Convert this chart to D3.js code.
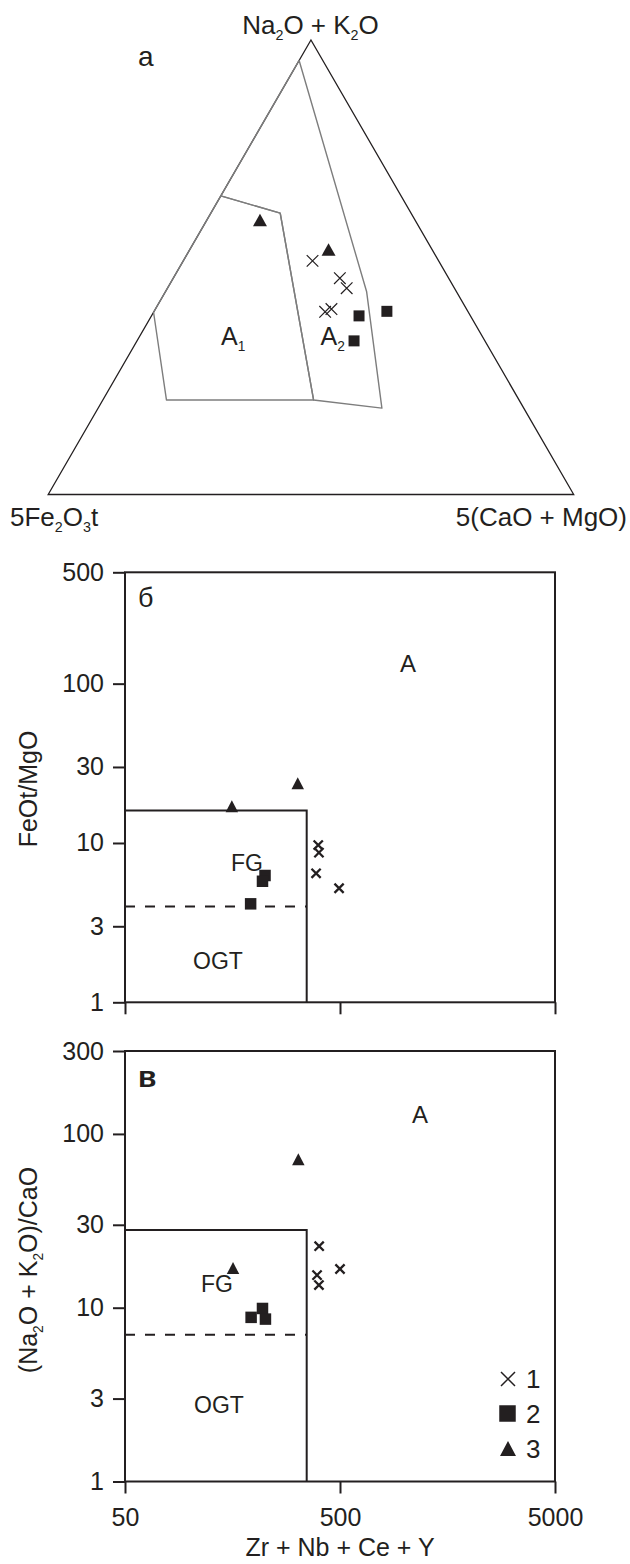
<!DOCTYPE html>
<html>
<head>
<meta charset="utf-8">
<script src="https://cdn.jsdelivr.net/npm/d3@7"></script>
<style>
  body { margin: 0; background: #fff; }
  svg { display: block; font-family: "Liberation Sans", Arial, sans-serif; }
</style>
</head>
<body>
<svg id="chart" width="630" height="1564"></svg>
<script>
// ---------- Ternary diagram (а): [Na2O+K2O, 5Fe2O3t, 5(CaO+MgO)], sum = 100 ----------
const fieldA1 = [[65.7, 34.3, 0], [61.9, 24.9, 13.2], [20.8, 39.1, 40.1], [20.8, 67.1, 12.1], [40.1, 59.9, 0]];
const fieldA2 = [[95.5, 4.5, 0], [44.6, 17.1, 38.3], [19.0, 27.1, 54.0], [20.8, 39.1, 40.1], [61.9, 24.9, 13.2], [65.7, 34.3, 0]];
const ternGroup1 = [[51.4, 24.0, 24.6], [47.6, 20.7, 31.7], [45.4, 20.5, 34.1], [40.2, 27.2, 32.6], [40.8, 25.7, 33.5]];
const ternGroup2 = [[39.3, 21.2, 39.5], [40.3, 15.4, 44.3], [33.8, 24.9, 41.3]];
const ternGroup3 = [[60.4, 29.5, 10.1], [53.9, 19.7, 26.4]];

// ---------- Whalen diagrams: x = Zr + Nb + Ce + Y (ppm) ----------
const xTicks = [50, 500, 5000];
const zrBoundary = 350;

// (б) FeOt/MgO
const feMgTicks = [1, 3, 10, 30, 100, 500];
const feMgFG = 16, feMgOGT = 4;
const bGroup1X = [396, 399, 387, 495], bGroup1Y = [9.7, 8.7, 6.45, 5.2];
const bGroup2X = [224, 218, 192],      bGroup2Y = [6.25, 5.75, 4.15];
const bGroup3X = [157, 318],           bGroup3Y = [17.0, 23.7];

// (в) (Na2O+K2O)/CaO
const alkCaTicks = [1, 3, 10, 30, 100, 300];
const alkCaFG = 28, alkCaOGT = 7;
const vGroup1X = [400, 500, 391, 399], vGroup1Y = [22.6, 16.7, 15.4, 13.5];
const vGroup2X = [218, 193, 225],      vGroup2Y = [9.9, 8.8, 8.6];
const vGroup3X = [320, 159],           vGroup3Y = [71.5, 16.9];

const legendLabels = ["1", "2", "3"];

const INK = "#231f20";
const svg = d3.select("#chart");

// marker shapes
const crossPath = s => `M${-s},${-s}L${s},${s}M${-s},${s}L${s},${-s}`;
const squarePath = s => `M${-s/2},${-s/2}h${s}v${s}h${-s}Z`;
const triPath = (w, h) => `M0,${-h/2}L${w/2},${h/2}L${-w/2},${h/2}Z`;

function drawMarks(g, pts, kind, opt) {
  const sel = g.selectAll(null).data(pts).enter().append("path")
    .attr("transform", d => `translate(${d[0]},${d[1]})`);
  if (kind === "cross") {
    sel.attr("d", crossPath(opt.s)).attr("fill", "none").attr("stroke", INK).attr("stroke-width", opt.sw);
  } else if (kind === "square") {
    sel.attr("d", squarePath(opt.s)).attr("fill", INK);
  } else {
    sel.attr("d", triPath(opt.w, opt.h)).attr("fill", INK);
  }
}

// text with subscripts: parts = [[text, isSub], ...]
function richText(g, x, y, parts, size, anchor, extra) {
  const t = g.append("text").attr("x", x).attr("y", y)
    .attr("font-size", size).attr("fill", INK).attr("text-anchor", anchor || "start");
  if (extra) extra(t);
  let shifted = false;
  parts.forEach(([s, sub]) => {
    const ts = t.append("tspan").text(s);
    if (sub && !shifted) { ts.attr("font-size", size * 0.55).attr("dy", size * 0.24); shifted = true; }
    else if (!sub && shifted) { ts.attr("dy", -size * 0.24); shifted = false; }
  });
  return t;
}

// ================= (а) ternary =================
{
  const g = svg.append("g");
  // vertical position from Na2O+K2O, horizontal from 5(CaO+MgO) + half of Na2O+K2O
  const ty = d3.scaleLinear().domain([0, 100]).range([494.5, 40]);
  const tx = d3.scaleLinear().domain([0, 100]).range([48.2, 573.7]);
  const proj = d => [tx(d[2] + d[0] / 2), ty(d[0])];

  const outline = [[100, 0, 0], [0, 100, 0], [0, 0, 100]].map(proj);
  g.append("path").attr("d", d3.line()(outline) + "Z")
    .attr("fill", "none").attr("stroke", INK).attr("stroke-width", 1.3);

  [fieldA1, fieldA2].forEach(f => {
    g.append("path").attr("d", d3.line()(f.map(proj)) + "Z")
      .attr("fill", "none").attr("stroke", "#7d7d7d").attr("stroke-width", 1.4)
      .attr("stroke-linejoin", "round");
  });

  drawMarks(g, ternGroup1.map(proj), "cross", { s: 5.8, sw: 1.2 });
  drawMarks(g, ternGroup2.map(proj), "square", { s: 11 });
  drawMarks(g, ternGroup3.map(proj), "tri", { w: 14, h: 12.5 });

  richText(g, 310.5, 34, [["Na", 0], ["2", 1], ["O + K", 0], ["2", 1], ["O", 0]], 26, "middle");
  richText(g, 10, 526, [["5Fe", 0], ["2", 1], ["O", 0], ["3", 1], ["t", 0]], 26, "start");
  g.append("text").attr("x", 627).attr("y", 526).attr("text-anchor", "end")
    .attr("font-size", 26).attr("fill", INK).text("5(CaO + MgO)");
  g.append("text").attr("x", 138).attr("y", 66).attr("font-size", 28).attr("fill", INK).text("а");
  richText(g, 221, 345, [["A", 0], ["1", 1]], 25, "start");
  richText(g, 320.5, 345, [["A", 0], ["2", 1]], 25, "start");
}

// ================= Whalen panels =================
function panel(cfg) {
  const g = svg.append("g");
  const x = d3.scaleLog().domain([50, 5000]).range([125, 555]);
  const y = d3.scaleLog().domain(cfg.yDomain).range(cfg.yRange);
  const top = cfg.yRange[1], bottom = cfg.yRange[0];

  // axes
  const ya = g.append("g").attr("transform", `translate(125,0)`)
    .call(d3.axisLeft(y).tickValues(cfg.yTicks).tickSize(12).tickSizeOuter(0).tickPadding(9)
      .tickFormat(d3.format("d")));
  const xa = g.append("g").attr("transform", `translate(0,${bottom})`)
    .call(d3.axisBottom(x).tickValues(xTicks).tickSize(12).tickSizeOuter(0).tickPadding(15)
      .tickFormat(cfg.xLabels ? d3.format("d") : () => ""));
  [ya, xa].forEach(a => {
    a.select(".domain").remove();
    a.selectAll("line").attr("stroke", INK).attr("stroke-width", 2);
    a.selectAll("text").attr("font-size", 25).attr("fill", INK)
      .attr("font-family", "'Liberation Sans', Arial, sans-serif");
  });

  // frame
  g.append("rect").attr("x", 125).attr("y", top).attr("width", 430).attr("height", bottom - top)
    .attr("fill", "none").attr("stroke", INK).attr("stroke-width", 2);

  // FG / OGT field
  g.append("path")
    .attr("d", d3.line()([[x(50), y(cfg.fg)], [x(zrBoundary), y(cfg.fg)], [x(zrBoundary), bottom]]))
    .attr("fill", "none").attr("stroke", INK).attr("stroke-width", 2);
  g.append("line").attr("x1", x(50)).attr("x2", x(zrBoundary))
    .attr("y1", y(cfg.ogt)).attr("y2", y(cfg.ogt))
    .attr("stroke", INK).attr("stroke-width", 2).attr("stroke-dasharray", "10,10");

  const pts = (xs, ys) => xs.map((v, i) => [x(v), y(ys[i])]);
  drawMarks(g, pts(cfg.g1x, cfg.g1y), "cross", { s: 4.6, sw: 2.3 });
  drawMarks(g, pts(cfg.g2x, cfg.g2y), "square", { s: 11.5 });
  drawMarks(g, pts(cfg.g3x, cfg.g3y), "tri", { w: 12.5, h: 12 });

  // field labels
  const lab = (tx, ty, s, size) => g.append("text").attr("x", tx).attr("y", ty)
    .attr("text-anchor", "middle").attr("font-size", size).attr("fill", INK).text(s);
  lab(cfg.aPos[0], cfg.aPos[1], "A", 24);
  lab(cfg.fgPos[0], cfg.fgPos[1], "FG", 23);
  lab(cfg.ogtPos[0], cfg.ogtPos[1], "OGT", 23);
  g.append("text").attr("x", 138).attr("y", cfg.tagY).attr("font-size", cfg.tagSize)
    .attr("font-weight", cfg.tagBold ? "bold" : "normal").attr("fill", INK).text(cfg.tag);

  // y title
  cfg.yTitle(g);
  return { g, x, y };
}

panel({
  yDomain: [1, 500], yRange: [1002.3, 572.3], yTicks: feMgTicks, xLabels: false,
  fg: feMgFG, ogt: feMgOGT,
  g1x: bGroup1X, g1y: bGroup1Y, g2x: bGroup2X, g2y: bGroup2Y, g3x: bGroup3X, g3y: bGroup3Y,
  aPos: [408, 672], fgPos: [247, 871], ogtPos: [218, 969],
  tag: "б", tagY: 607, tagSize: 27, tagBold: false,
  yTitle: g => g.append("text").attr("transform", "translate(37,789) rotate(-90)")
    .attr("text-anchor", "middle").attr("font-size", 25).attr("fill", INK).text("FeOt/MgO")
});

panel({
  yDomain: [1, 300], yRange: [1481.5, 1051], yTicks: alkCaTicks, xLabels: true,
  fg: alkCaFG, ogt: alkCaOGT,
  g1x: vGroup1X, g1y: vGroup1Y, g2x: vGroup2X, g2y: vGroup2Y, g3x: vGroup3X, g3y: vGroup3Y,
  aPos: [420, 1123], fgPos: [217, 1292], ogtPos: [219, 1413],
  tag: "в", tagY: 1087, tagSize: 30, tagBold: true,
  yTitle: g => richText(g, 0, 0,
    [["(Na", 0], ["2", 1], ["O + K", 0], ["2", 1], ["O)/CaO", 0]], 25, "middle",
    t => t.attr("transform", "translate(37,1270) rotate(-90)"))
});

// x title
svg.append("text").attr("x", 340).attr("y", 1556).attr("text-anchor", "middle")
  .attr("font-size", 25).attr("fill", INK).text("Zr + Nb + Ce + Y");

// legend
{
  const g = svg.append("g");
  const rows = [1379, 1413.5, 1448.5];
  drawMarks(g, [[508, rows[0]]], "cross", { s: 7, sw: 1.5 });
  drawMarks(g, [[507.5, rows[1]]], "square", { s: 16.5 });
  drawMarks(g, [[508, rows[2]]], "tri", { w: 16, h: 15 });
  g.selectAll(null).data(legendLabels).enter().append("text")
    .attr("x", 526).attr("y", (d, i) => rows[i] + 9)
    .attr("font-size", 26).attr("fill", INK).text(d => d);
}
</script>
</body>
</html>
